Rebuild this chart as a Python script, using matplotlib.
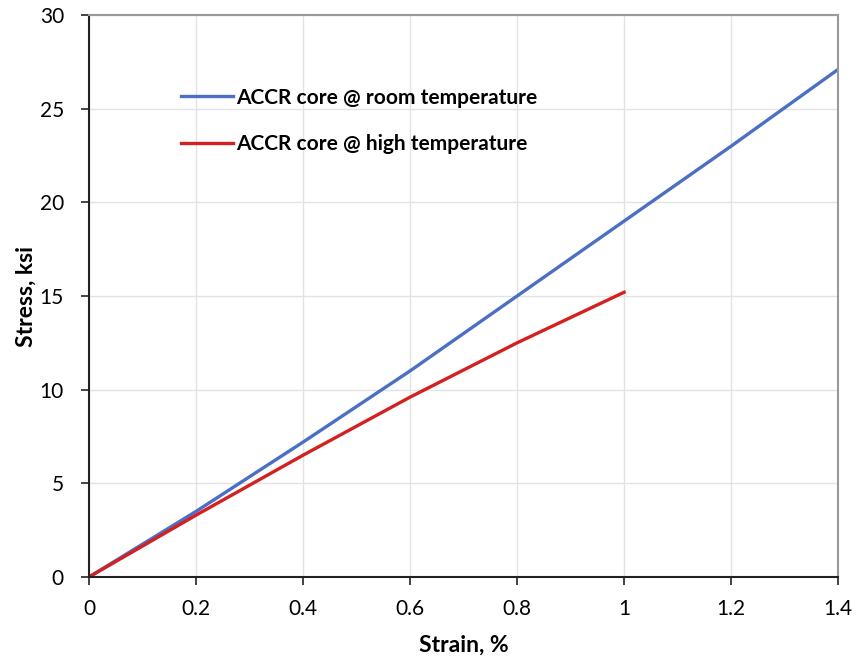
import matplotlib
import numpy as np
import matplotlib.pyplot as plt

matplotlib.use('Agg')

# strain, % and stress, ksi
strain_room = [0, 0.2, 0.4, 0.6, 0.8, 1.0, 1.2, 1.4]
stress_room = [0, 3.5, 7.2, 11.0, 15.0, 19.0, 23.0, 27.1]
strain_high = [0, 0.2, 0.4, 0.6, 0.8, 1.0]
stress_high = [0, 3.3, 6.5, 9.6, 12.5, 15.2]

x_ticks = [0, 0.2, 0.4, 0.6, 0.8, 1.0, 1.2, 1.4]
x_labels = ['0', '0.2', '0.4', '0.6', '0.8', '1', '1.2', '1.4']
y_ticks = [0, 5, 10, 15, 20, 25, 30]

plt.rcParams['font.family'] = ['Lato', 'DejaVu Sans']

fig = plt.figure(figsize=(8.57, 6.62), dpi=100)
ax = fig.add_axes([0.1038, 0.1284, 0.8742, 0.8489])

ax.plot(strain_room, stress_room, color='#4a6fc4', lw=2.4, label='ACCR core @ room temperature')
ax.plot(strain_high, stress_high, color='#d42020', lw=2.4, label='ACCR core @ high temperature')

ax.set_xlim(0, 1.4)
ax.set_ylim(0, 30)
ax.set_xticks(x_ticks)
ax.set_xticklabels(x_labels)
ax.set_yticks(y_ticks)
ax.tick_params(labelsize=15, direction='out', length=6, width=1.2, color='#222222')
ax.tick_params(axis='x', pad=10)
ax.tick_params(axis='y', pad=12)
ax.grid(True, color='#e3e3e3', lw=1)
ax.set_axisbelow(True)

for side in ['left', 'bottom']:
    ax.spines[side].set_color('#222222')
    ax.spines[side].set_linewidth(1.5)
for side in ['top', 'right']:
    ax.spines[side].set_color('#999999')
    ax.spines[side].set_linewidth(1.5)

ax.set_xlabel('Strain, %', fontsize=16.5, fontweight='bold', labelpad=11)
ax.set_ylabel('Stress, ksi', fontsize=16.5, fontweight='bold', labelpad=2)

leg = ax.legend(loc='upper left', bbox_to_anchor=(0.098, 0.904), frameon=False,
                prop={'size': 15, 'weight': 'bold'}, handlelength=2.5,
                handletextpad=0.15, labelspacing=1.28)

fig.savefig('out.png', dpi=100)
